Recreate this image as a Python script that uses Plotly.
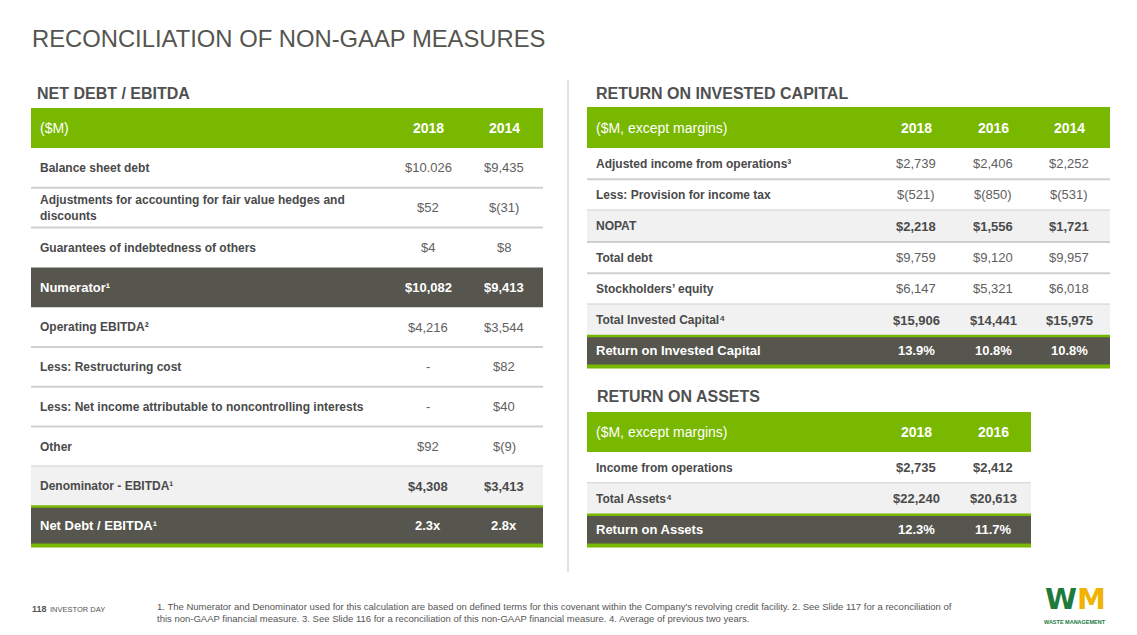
import plotly.graph_objects as go

W, H = 1137, 635
PAGE_MARGIN = 8  # default body margin of the html page

TITLE = "RECONCILIATION OF NON-GAAP MEASURES"

# ---------------- Net Debt / EBITDA ----------------
nd_title = "NET DEBT / EBITDA"
nd_unit = "($M)"
nd_years = ["2018", "2014"]
nd_labels = [
    "Balance sheet debt",
    "Adjustments for accounting for fair value hedges and<br>discounts",
    "Guarantees of indebtedness of others",
    "Numerator\u00b9",
    "Operating EBITDA\u00b2",
    "Less: Restructuring cost",
    "Less: Net income attributable to noncontrolling interests",
    "Other",
    "Denominator - EBITDA\u00b9",
    "Net Debt / EBITDA\u00b9",
]
nd_2018 = ["$10.026", "$52", "$4", "$10,082", "$4,216", "-", "-", "$92", "$4,308", "2.3x"]
nd_2014 = ["$9,435", "$(31)", "$8", "$9,413", "$3,544", "$82", "$40", "$(9)", "$3,413", "2.8x"]
nd_kinds = ["row", "row", "row", "dark", "row", "row", "row", "row", "sub", "total"]

# ---------------- Return on Invested Capital ----------------
roic_title = "RETURN ON INVESTED CAPITAL"
roic_unit = "($M, except margins)"
roic_years = ["2018", "2016", "2014"]
roic_labels = [
    "Adjusted income from operations\u00b3",
    "Less: Provision for income tax",
    "NOPAT",
    "Total debt",
    "Stockholders\u2019 equity",
    "Total Invested Capital\u2074",
    "Return on Invested Capital",
]
roic_2018 = ["$2,739", "$(521)", "$2,218", "$9,759", "$6,147", "$15,906", "13.9%"]
roic_2016 = ["$2,406", "$(850)", "$1,556", "$9,120", "$5,321", "$14,441", "10.8%"]
roic_2014 = ["$2,252", "$(531)", "$1,721", "$9,957", "$6,018", "$15,975", "10.8%"]
roic_kinds = ["row", "row", "sub", "row", "row", "sub", "total"]

# ---------------- Return on Assets ----------------
roa_title = "RETURN ON ASSETS"
roa_unit = "($M, except margins)"
roa_years = ["2018", "2016"]
roa_labels = ["Income from operations", "Total Assets\u2074", "Return on Assets"]
roa_2018 = ["$2,735", "$22,240", "12.3%"]
roa_2016 = ["$2,412", "$20,613", "11.7%"]
roa_kinds = ["rowbold", "sub", "total"]

FOOTNOTE = ("1. The Numerator and Denominator used for this calculation are based on defined terms for this "
            "covenant within the Company's revolving credit facility. 2. See Slide 117 for a reconciliation of<br>"
            "this non-GAAP financial measure. 3. See Slide 116 for a reconciliation of this non-GAAP financial "
            "measure. 4. Average of previous two years.")
PAGE_NO = "118"
PAGE_TAG = "INVESTOR DAY"
LOGO_W, LOGO_M, LOGO_SUB = "W", "M", "WASTE MANAGEMENT"

# ---------------- styles ----------------
FONT = "Liberation Sans, Arial, sans-serif"
GREEN = "#78b800"
DARK = "#56564e"
SUBBG = "#f1f1f1"
LINE = "#cfcfcb"
LABEL_C = "#4a4a4a"
VAL_C = "#606060"
HEAD_C = "#505050"
LOGO_GREEN = "#1b7a3c"
LOGO_GOLD = "#f0b300"

shapes = []
annotations = []


def rect(x0, y0, x1, y1, color):
    shapes.append(dict(type="rect", xref="x", yref="y", x0=x0, x1=x1, y0=y0, y1=y1,
                       fillcolor=color, line=dict(width=0), layer="below"))


def hline(x0, x1, y, color, width):
    shapes.append(dict(type="line", xref="x", yref="y", x0=x0, x1=x1, y0=y, y1=y,
                       line=dict(color=color, width=width), layer="below"))


def text(x, y, s, size, color, bold=False, xanchor="left", yanchor="middle", family=FONT):
    annotations.append(dict(x=x, y=y, xref="x", yref="y", text=s, showarrow=False,
                            xanchor=xanchor, yanchor=yanchor, align="left", borderpad=0,
                            font=dict(family=family, size=size, color=color,
                                      weight="bold" if bold else "normal")))


def draw_table(x0, x1, label_x, col_x, head_top, head_bot, row_h,
               unit, years, labels, cols, kinds):
    rect(x0, head_top, x1, head_bot, GREEN)
    hy = (head_top + head_bot) / 2
    text(label_x, hy, unit, 14, "white")
    for cx, yr in zip(col_x, years):
        text(cx, hy, yr, 14, "white", bold=True, xanchor="center")
    n = len(labels)
    for i in range(n):
        top = head_bot + i * row_h
        bot = top + row_h
        kind = kinds[i]
        cy = (top + bot) / 2
        lab_c, val_c, val_b = LABEL_C, VAL_C, False
        if kind == "dark":
            rect(x0, top, x1, bot, DARK)
            lab_c, val_c, val_b = "white", "white", True
        elif kind == "total":
            rect(x0, top, x1, bot - 2, DARK)
            rect(x0, top - 1, x1, top + 1.5, GREEN)
            rect(x0, bot - 2.5, x1, bot + 1.5, GREEN)
            lab_c, val_c, val_b = "white", "white", True
            cy = (top + bot) / 2 - 0.5
        elif kind == "sub":
            rect(x0, top, x1, bot, SUBBG)
            val_c, val_b = LABEL_C, True
        elif kind == "rowbold":
            val_c, val_b = LABEL_C, True
        nxt = kinds[i + 1] if i + 1 < n else None
        if kind in ("row", "rowbold", "sub") and nxt in ("row", "rowbold", "sub"):
            hline(x0, x1, bot, LINE, 2)
        big = kind in ("dark", "total")
        text(label_x, cy, labels[i], 13 if big else 12, lab_c, bold=True)
        for cx, col in zip(col_x, cols):
            text(cx, cy, col[i], 13, val_c, bold=val_b, xanchor="center")


# Title
text(31, 38, TITLE, 23.8, "#555550")

# Left table
text(36, 93, nd_title, 16, HEAD_C, bold=True)
draw_table(31, 543, 39, [428, 504], 108, 148, 39.8,
           nd_unit, nd_years, nd_labels, [nd_2018, nd_2014], nd_kinds)

# Divider
shapes.append(dict(type="line", xref="x", yref="y", x0=568, x1=568, y0=80, y1=572,
                   line=dict(color="#c4c4c4", width=1)))

# ROIC
text(595, 93, roic_title, 16, HEAD_C, bold=True)
draw_table(587, 1110, 595, [916, 993, 1069], 107, 148, 31.3,
           roic_unit, roic_years, roic_labels, [roic_2018, roic_2016, roic_2014], roic_kinds)

# ROA
text(596, 396, roa_title, 16, HEAD_C, bold=True)
draw_table(587, 1031, 595, [916, 993], 412, 452, 31.3,
           roa_unit, roa_years, roa_labels, [roa_2018, roa_2016], roa_kinds)

# Footer
text(31, 609, PAGE_NO, 9, "#555555", bold=True)
text(49, 609, PAGE_TAG, 7.5, "#555555")
text(156, 612, FOOTNOTE, 9.5, "#555555")

# Logo
text(1075, 617, LOGO_W + "<span style='color:%s'>%s</span>" % (LOGO_GOLD, LOGO_M), 29,
     LOGO_GREEN, bold=True, xanchor="center", yanchor="bottom", family="DejaVu Sans, sans-serif")
text(1075, 622, LOGO_SUB, 5.5, LOGO_GREEN, bold=True, xanchor="center")

fig = go.Figure()
fig.update_layout(
    width=W - 2 * PAGE_MARGIN, height=H - 2 * PAGE_MARGIN,
    margin=dict(l=0, r=0, t=0, b=0),
    paper_bgcolor="white", plot_bgcolor="white",
    xaxis=dict(range=[PAGE_MARGIN, W - PAGE_MARGIN], visible=False, fixedrange=True),
    yaxis=dict(range=[H - PAGE_MARGIN, PAGE_MARGIN], visible=False, fixedrange=True),
    shapes=shapes, annotations=annotations,
    showlegend=False,
)
fig.write_html("out.html")
